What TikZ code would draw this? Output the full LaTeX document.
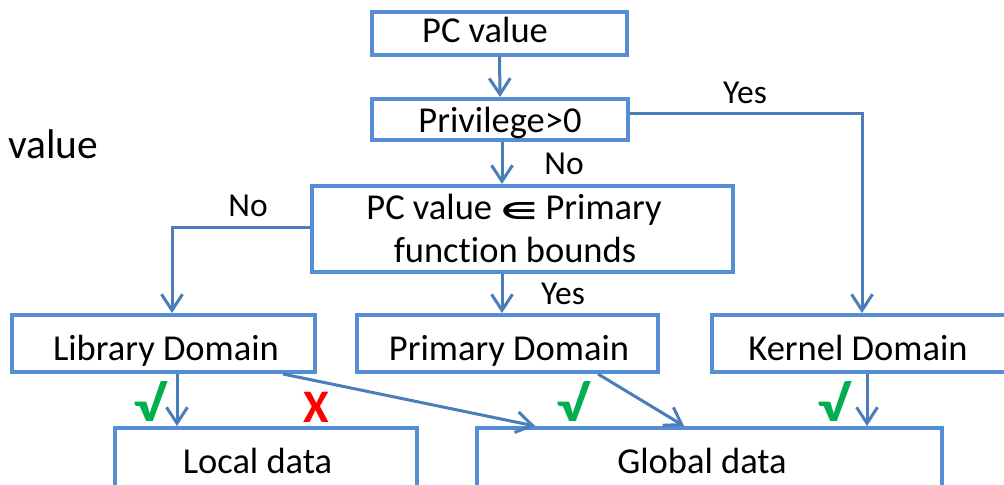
\documentclass[tikz,border=0pt]{standalone}
\usepackage{fontspec}
\usepackage{graphicx}
\setmainfont[Ligatures=NoCommon]{Carlito}
\newfontfamily\symfont{DejaVu Sans}
\usetikzlibrary{arrows.meta,fit}
\definecolor{boxblue}{RGB}{85,142,213}
\definecolor{lineblue}{RGB}{74,126,187}
\definecolor{okgreen}{RGB}{0,176,80}
\definecolor{nored}{RGB}{255,0,0}
\newcommand{\okglyph}{\resizebox*{16pt}{20pt}{\bfseries √}}
\begin{document}
\begin{tikzpicture}[x=0.5pt,y=-0.5pt,
  box/.style={draw=boxblue, line width=2pt, inner sep=0pt, rectangle},
  conn/.style={draw=lineblue, line width=1.5pt, -{Straight Barb[length=8pt,width=10.5pt]}},
  txt/.style={anchor=base, inner sep=0pt, font=\fontsize{18.25}{22}\selectfont},
  lbl/.style={anchor=base, inner sep=0pt, font=\fontsize{16.75}{20}\selectfont},
  okmark/.style={anchor=south, inner sep=0pt, text=okgreen},
  nomark/.style={anchor=base, inner sep=0pt, text=nored, font=\fontsize{23.3}{28}\selectfont\bfseries}]
\useasboundingbox (0,0) rectangle (1004,485);
\clip (0,0) rectangle (1004,485);
\fill[white] (0,0) rectangle (1004,485);

% boxes
\node[box, fit={(372,12) (627,55)}] (pc) {};
\node[box, fit={(372,99) (628,140)}] (priv) {};
\node[box, fit={(312,186) (733,272)}] (cond) {};
\node[box, fit={(12,315) (315,372)}] (lib) {};
\node[box, fit={(357,315) (658,372)}] (prim) {};
\node[box, fit={(712,315) (1012,372)}] (kern) {};
\node[box, fit={(115,428) (417,500)}] (local) {};
\node[box, fit={(477,428) (942,500)}] (glob) {};

% texts
\node[txt] (pct) at (485,43) {PC value};
\node[txt] (privt) at (500,133) {Privilege>0};
\node[txt] (condt1) at (514,220) {PC value \resizebox{18.5pt}{8.5pt}{\symfont\bfseries ∈} Primary};
\node[txt] (condt2) at (515,263) {function bounds};
\node[txt] (libt) at (166,360) {Library Domain};
\node[txt] (primt) at (509,360) {Primary Domain};
\node[txt] (kernt) at (858,360) {Kernel Domain};
\node[txt] (localt) at (257.5,473) {Local data};
\node[txt] (globt) at (702,473) {Global data};
\node[anchor=base west, inner sep=0pt, font=\fontsize{20.75}{24}\selectfont] (valt) at (8,159) {value};

% labels
\node[lbl] (yes1) at (745,104) {Yes};
\node[lbl] (no1) at (564,175) {No};
\node[lbl] (no2) at (248,217) {No};
\node[lbl] (yes2) at (563,305) {Yes};

% marks
\node[okmark] (ok1) at (149,422) {\okglyph};
\node[okmark] (ok2) at (572,422) {\okglyph};
\node[okmark] (ok3) at (833,422) {\okglyph};
\node[nomark] (x1) at (316,422) {X};

% helper coordinates
\coordinate (xa) at (502,0);
\coordinate (ya) at (0,114);
\coordinate (yb) at (0,228);
\coordinate (xl) at (172,0);
\coordinate (xll) at (177,0);
\coordinate (xlg) at (283,0);
\coordinate (xgl) at (535,0);
\coordinate (xps) at (598,0);
\coordinate (xpg) at (684,0);
\coordinate (xk) at (867,0);

% connectors
\draw[conn] (pc.south) -- (priv.north);
\draw[conn] (priv.east |- ya) -| (kern.north);
\draw[conn] (priv.south -| xa) -- (cond.north -| xa);
\draw[conn] (cond.west |- yb) -| (lib.north -| xl);
\draw[conn] (cond.south -| xa) -- (prim.north -| xa);
\draw[conn] (lib.south -| xll) -- (local.north -| xll);
\draw[conn] (lib.south -| xlg) -- (glob.north -| xgl);
\draw[conn] (prim.south -| xps) -- (glob.north -| xpg);
\draw[conn] (kern.south -| xk) -- (glob.north -| xk);
\end{tikzpicture}
\end{document}
